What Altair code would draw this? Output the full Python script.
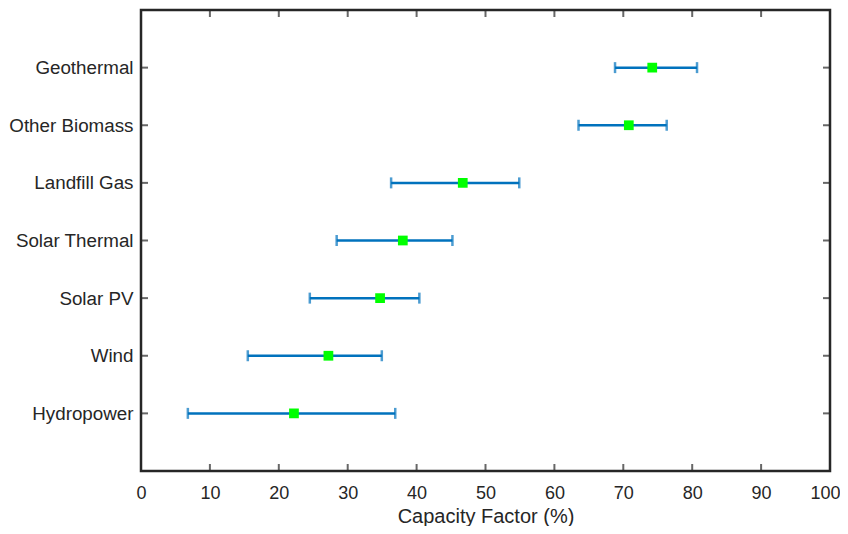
import altair as alt
import pandas as pd

sources = ["Hydropower", "Wind", "Solar PV", "Solar Thermal", "Landfill Gas", "Other Biomass", "Geothermal"]
low = [6.8, 15.5, 24.5, 28.4, 36.3, 63.5, 68.8]
mid = [22.2, 27.2, 34.7, 38.0, 46.7, 70.8, 74.2]
high = [36.9, 34.95, 40.4, 45.2, 54.9, 76.3, 80.7]
x_ticks = [0, 10, 20, 30, 40, 50, 60, 70, 80, 90, 100]

W, H = 689, 461
FRAME = "#262626"
FONT = "Liberation Sans"

df = pd.DataFrame({"source": sources, "low": low, "mid": mid, "high": high})
tick_df = pd.DataFrame({"t": x_ticks})
cat_df = pd.DataFrame({"source": sources})

order = sources[::-1]
y_enc = alt.Y("source:N", scale=alt.Scale(type="point", domain=order, padding=1),
              axis=alt.Axis(title=None, ticks=False, domain=False, labelPadding=8,
                            labelFontSize=18.8, labelColor=FRAME, labelFont=FONT))
x_scale = alt.Scale(domain=[0, 100], nice=False)
x_enc = alt.X("low:Q", scale=x_scale,
              axis=alt.Axis(title="Capacity Factor (%)", values=x_ticks, ticks=False, domain=False,
                            grid=False, labelPadding=13, labelFontSize=18, labelColor=FRAME,
                            labelFlush=False,
                            labelOffset={"condition": {"test": "datum.value == 100", "value": -5}, "value": 0},
                            labelFont=FONT, titleFont=FONT, titleFontSize=20,
                            titleFontWeight="normal", titleColor=FRAME, titlePadding=4))

base = alt.Chart(df)
rules = base.mark_rule(color="#0072BD", strokeWidth=2.5).encode(x=x_enc, x2="high:Q", y=y_enc)
cap_lo = base.mark_tick(color="#0072BD", size=11, thickness=2.5).encode(x=alt.X("low:Q", scale=x_scale), y=alt.Y("source:N"))
cap_hi = base.mark_tick(color="#0072BD", size=11, thickness=2.5).encode(x=alt.X("high:Q", scale=x_scale), y=alt.Y("source:N"))
pts = base.mark_square(color="#00FF00", size=95, opacity=1, filled=True).encode(x=alt.X("mid:Q", scale=x_scale), y=alt.Y("source:N"))

tick_top = alt.Chart(tick_df).mark_tick(color=FRAME, size=14, thickness=2, clip=True).encode(
    x=alt.X("t:Q", scale=x_scale), y=alt.value(0))
tick_bot = alt.Chart(tick_df).mark_tick(color=FRAME, size=14, thickness=2, clip=True).encode(
    x=alt.X("t:Q", scale=x_scale), y=alt.value(H))
tick_l = alt.Chart(cat_df).mark_tick(color=FRAME, size=14, thickness=2, clip=True, orient="horizontal").encode(
    y=alt.Y("source:N"), x=alt.value(0))
tick_r = alt.Chart(cat_df).mark_tick(color=FRAME, size=14, thickness=2, clip=True, orient="horizontal").encode(
    y=alt.Y("source:N"), x=alt.value(W))

chart = alt.layer(rules, cap_lo, cap_hi, pts, tick_top, tick_bot, tick_l, tick_r).properties(
    width=W, height=H, padding={"left": 133, "top": 2, "right": 10, "bottom": 55},
    autosize=alt.AutoSizeParams(type="none"),
).configure(background="white").configure_view(stroke=FRAME, strokeWidth=2.5)

chart.save("out.html", embed_options={"renderer": "svg", "actions": False})
